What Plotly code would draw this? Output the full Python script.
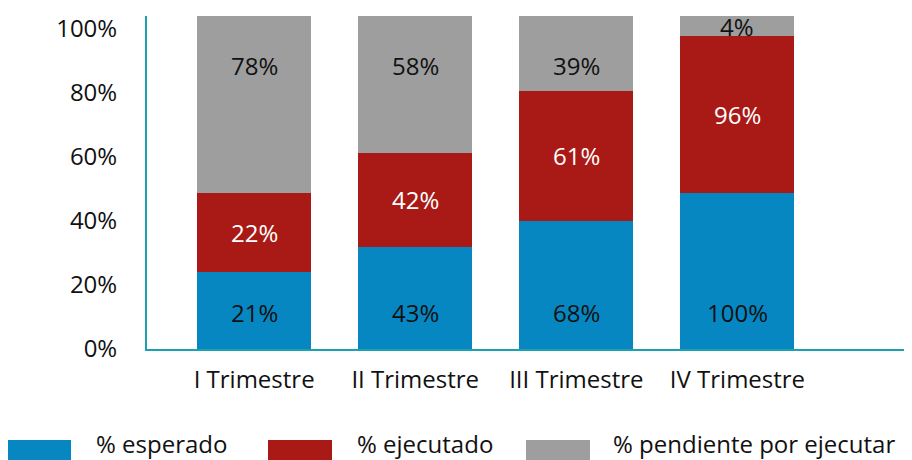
import plotly.graph_objects as go

# ---- data ----
categorias = ["I Trimestre", "II Trimestre", "III Trimestre", "IV Trimestre"]
series = ["% esperado", "% ejecutado", "% pendiente por ejecutar"]
# segment heights as drawn (percent of axis)
esperado_h = [24.0, 31.9, 40.0, 48.75]
ejecutado_h = [24.75, 29.35, 40.6, 49.0]
pendiente_h = [55.25, 42.75, 23.4, 6.25]
# data label texts
esperado_lbl = ["21%", "43%", "68%", "100%"]
ejecutado_lbl = ["22%", "42%", "61%", "96%"]
pendiente_lbl = ["78%", "58%", "39%", "4%"]
y_ticks = [0, 20, 40, 60, 80, 100]
y_ticktext = ["0%", "20%", "40%", "60%", "80%", "100%"]

# ---- style ----
colores = ["#0787C1", "#A91916", "#9E9E9E"]
txt_col = ["#111111", "#FFFFFF", "#111111"]
axis_col = "#1BA1B0"
FONT = "Open Sans"
FS = 24
OFF = 8  # page body margin
W, H = 912 - OFF, 460 - OFF
# plot area in page pixels: left 147, right 905, top 16, bottom 349
ML = 147 - OFF
MR = W - (905 - OFF)
MT = 16 - OFF
MB = H - (349 - OFF)

fig = go.Figure()
for name, vals, col in zip(series, [esperado_h, ejecutado_h, pendiente_h], colores):
    fig.add_trace(go.Bar(
        x=categorias, y=vals, name=name,
        marker=dict(color=col, line=dict(width=0)),
        width=0.708, showlegend=False, hoverinfo="skip",
    ))

# data labels
annotations = []
for i, cat in enumerate(categorias):
    b1 = esperado_h[i]
    b2 = b1 + ejecutado_h[i]
    top = b2 + pendiente_h[i]
    positions = [
        11.5,
        (b1 + b2) / 2,
        88.4 if pendiente_h[i] > 15 else (b2 + top) / 2,
    ]
    for lbls, yv, tc in zip([esperado_lbl, ejecutado_lbl, pendiente_lbl], positions, txt_col):
        annotations.append(dict(
            x=cat, y=yv, xref="x", yref="y", text=lbls[i], showarrow=False,
            font=dict(family=FONT, size=FS, color=tc),
            xanchor="center", yanchor="middle",
        ))

# manual legend with large swatches (page pixel positions)
pw = W - ML - MR
ph = H - MT - MB
def px_x(px):
    return (px - OFF - ML) / pw
def px_y(py):
    return (H - MB - (py - OFF)) / ph

shapes = []
swatch_x = [7, 268, 526]
text_x = [95, 356, 612]
for sx, tx, col, name in zip(swatch_x, text_x, colores, series):
    shapes.append(dict(
        type="rect", xref="paper", yref="paper",
        x0=px_x(sx), x1=px_x(sx + 64), y0=px_y(440), y1=px_y(460),
        fillcolor=col, line=dict(width=0), layer="above",
    ))
    annotations.append(dict(
        x=px_x(tx), y=px_y(444), xref="paper", yref="paper", text=name,
        showarrow=False, xanchor="left", yanchor="middle", borderpad=0,
        font=dict(family=FONT, size=FS, color="#111111"),
    ))

fig.update_layout(
    width=W, height=H,
    margin=dict(l=ML, r=MR, t=MT, b=MB, pad=0, autoexpand=False),
    barmode="stack",
    plot_bgcolor="white", paper_bgcolor="white",
    font=dict(family=FONT, size=FS, color="#111111"),
    annotations=annotations, shapes=shapes,
    xaxis=dict(
        range=[-0.665, 4.04], showgrid=False, zeroline=False,
        showline=True, linecolor=axis_col, linewidth=2,
        ticks="", ticklabelstandoff=8, automargin=False,
        tickfont=dict(family=FONT, size=FS, color="#111111"),
    ),
    yaxis=dict(
        range=[0, 104], tickvals=y_ticks, ticktext=y_ticktext,
        showgrid=False, zeroline=False,
        showline=True, linecolor=axis_col, linewidth=2,
        ticks="", ticklabelstandoff=23, automargin=False,
        tickfont=dict(family=FONT, size=FS, color="#111111"),
    ),
)

fig.write_html("out.html")
